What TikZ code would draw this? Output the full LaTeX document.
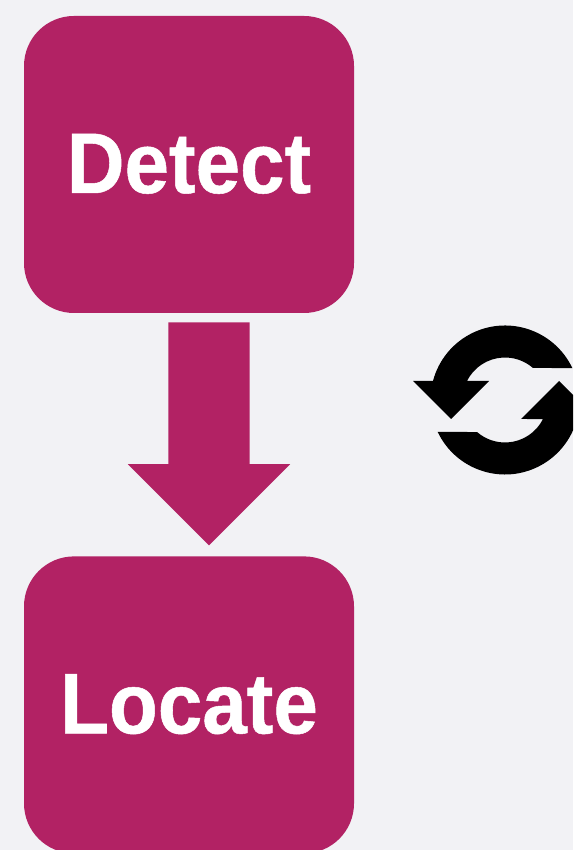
\documentclass[tikz,border=0pt]{standalone}
\usepackage{fontspec}
\usepackage{xcolor}
\usetikzlibrary{positioning,shapes.arrows}
\newfontfamily\stagefont[FakeStretch=0.93,FakeBold=0.6]{Liberation Sans Bold}
\definecolor{stagepink}{HTML}{B22264}
\definecolor{pagegrey}{HTML}{F2F2F5}
\tikzset{
  stagebox/.style={fill=stagepink, rounded corners=50pt, minimum width=330pt, minimum height=297pt,
    inner sep=0pt, text=white, text height=61pt, text depth=4pt, font=\stagefont\fontsize{86}{86}\selectfont},
  blockarrow/.style={single arrow, fill=stagepink, minimum height=223pt, minimum width=162pt,
    single arrow head extend=40.5pt, inner xsep=0pt, inner ysep=40.5pt, rotate=-90}
}
\newcommand{\refreshhalf}{
  (25.4:74.5pt) arc[start angle=25.4, end angle=165.2, radius=74.5pt]
  -- (-92pt,19pt) -- (-54pt,-19pt) -- (-16pt,19pt) -- (153.4:42.5pt)
  arc[start angle=153.4, end angle=48.9, radius=42.5pt] -- cycle
}
\begin{document}
\begin{tikzpicture}[x=1pt, y=1pt]
\useasboundingbox (0,0) rectangle (573,850);
\clip (0,0) rectangle (573,850);
% Background
\fill[pagegrey] (0,0) rectangle (573,850);

% Boxes
\node[stagebox] (detect) at (189,685.5) {Detect};
\node[stagebox, below=243pt of detect] (locate) {Locate};

% Big arrow
\node[blockarrow, anchor=tail] (detecttolocate) at ([xshift=20pt, yshift=-9pt]detect.south) {};

% Refresh icon
\begin{scope}[shift={(505,450)}]
\fill \refreshhalf;
\fill[rotate=180] \refreshhalf;
\end{scope}
\end{tikzpicture}
\end{document}
